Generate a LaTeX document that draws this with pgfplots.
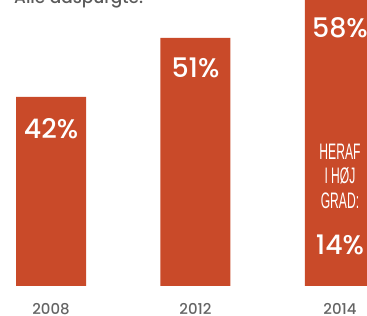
\documentclass[border=0pt]{standalone}
\usepackage{pgfplots}
\pgfplotsset{compat=1.18}
\usepackage{fontspec}
\setmainfont{Poppins}
\newfontfamily\popmed{Poppins}[UprightFont=* Medium, BoldFont=* SemiBold]
\newfontfamily\condfont{Liberation Sans}
\definecolor{barred}{RGB}{201,74,41}
\definecolor{yeargray}{RGB}{100,100,100}
\definecolor{titlegray}{RGB}{90,90,90}
\begin{document}
\begin{tikzpicture}[x=1bp,y=1bp]
\useasboundingbox (0,0) rectangle (367,316);
\clip (0,0) rectangle (367,316);
\node[anchor=base west, text=titlegray, font=\popmed\fontsize{17}{17}\selectfont, inner sep=0] at (14,313) {Alle adspurgte:};
\begin{axis}[
  at={(0bp,30bp)}, anchor=south west,
  scale only axis, width=367bp, height=286bp,
  xmin=-0.353, xmax=2.187, ymin=13.17, ymax=56.79,
  axis line style={draw=none},
  major tick length=0pt,
  ytick=\empty,
  xtick=data,
  xticklabels={2008,2012,2014},
  xticklabel style={text=yeargray, font=\popmed\fontsize{15}{15}\selectfont, anchor=center, yshift=-23bp},
  ybar, bar width=70bp,
]
\addplot[fill=barred, draw=none] coordinates {(0,42) (1,51) (2,58)};
\node[text=white, font=\popmed\fontsize{27}{27}\selectfont] at (axis cs:0,13.17) [yshift=157bp] {42\%};
\node[text=white, font=\popmed\fontsize{27}{27}\selectfont] at (axis cs:1,13.17) [yshift=218bp] {51\%};
\node[text=white, font=\popmed\fontsize{27}{27}\selectfont] at (axis cs:2,13.17) [yshift=258bp] {58\%};
\node[text=white, font=\popmed\fontsize{27}{27}\selectfont] at (axis cs:2,13.17) [yshift=41bp] {14\%};
\node[text=white, align=center, font=\condfont\fontsize{22.5}{24.5}\selectfont] at (axis cs:2,13.17) [yshift=110bp]
  {\scalebox{0.54}[1]{HERAF}\\\scalebox{0.54}[1]{I HØJ}\\\scalebox{0.54}[1]{GRAD:}};
\end{axis}
\end{tikzpicture}
\end{document}
